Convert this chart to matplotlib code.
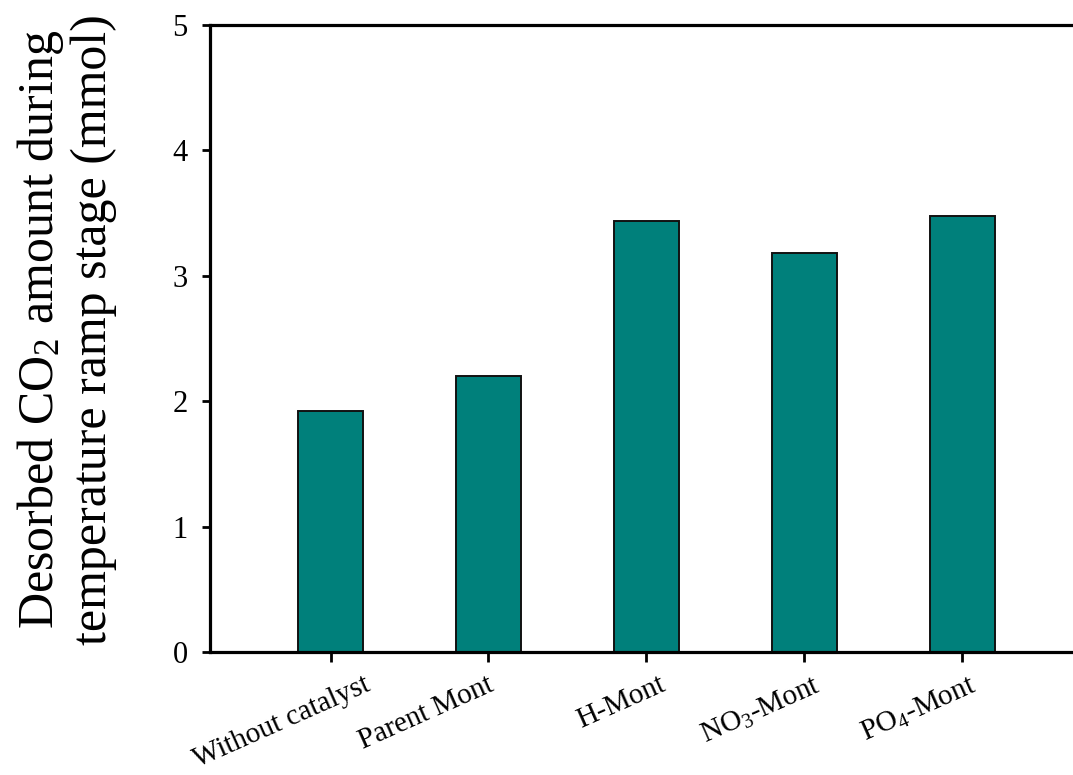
import matplotlib
matplotlib.use("Agg")
import matplotlib.pyplot as plt
import matplotlib.transforms as mtransforms
import numpy as np

# --- data ---
catalysts = ["Without catalyst", "Parent Mont", "H-Mont", "NO$_3$-Mont", "PO$_4$-Mont"]
desorbed_co2 = [1.92, 2.20, 3.44, 3.18, 3.48]
y_ticks = [0, 1, 2, 3, 4, 5]

plt.rcParams['font.family'] = ['Liberation Serif', 'DejaVu Serif']
plt.rcParams['mathtext.fontset'] = 'custom'
plt.rcParams['mathtext.rm'] = 'Liberation Serif'
plt.rcParams['mathtext.it'] = 'Liberation Serif:italic'

fig = plt.figure(figsize=(10.73, 7.75), dpi=100)
ax = fig.add_axes([0.1957, 0.1587, 0.8043, 0.809])

x = np.arange(len(catalysts))
ax.bar(x, desorbed_co2, width=0.41, color='#00807b', edgecolor='#111111', linewidth=1.4, zorder=2)

ax.set_xlim(-0.763, 4.70)
ax.set_ylim(0, 5)
ax.set_yticks(y_ticks)
ax.set_yticklabels([str(v) for v in y_ticks], fontsize=22)

# slanted category labels, placed by hand under each tick (shift in pixels)
ax.set_xticks(x)
ax.set_xticklabels([])
shifts = [33, -2, 12, 9, 7]
for xi, name, dx in zip(x, catalysts, shifts):
    tr = ax.get_xaxis_transform() + mtransforms.ScaledTranslation(
        dx / 100, -20 / 100, fig.dpi_scale_trans)
    ax.text(xi, 0, name, transform=tr, fontsize=21, rotation=24,
            ha='right', va='top', rotation_mode='anchor', clip_on=False)

for side in ('left', 'bottom', 'top'):
    ax.spines[side].set_linewidth(2.3)
ax.spines['right'].set_visible(False)
ax.tick_params(axis='y', direction='out', length=6, width=2, pad=10)
ax.tick_params(axis='x', direction='out', length=7.5, width=2)

fig.text(66 / 1073, 0.575,
         "Desorbed CO$_2$ amount during\ntemperature ramp stage (mmol)",
         rotation=90, ha='center', va='center', multialignment='center',
         fontsize=36, linespacing=1.1)

fig.savefig("out.png", dpi=100)
